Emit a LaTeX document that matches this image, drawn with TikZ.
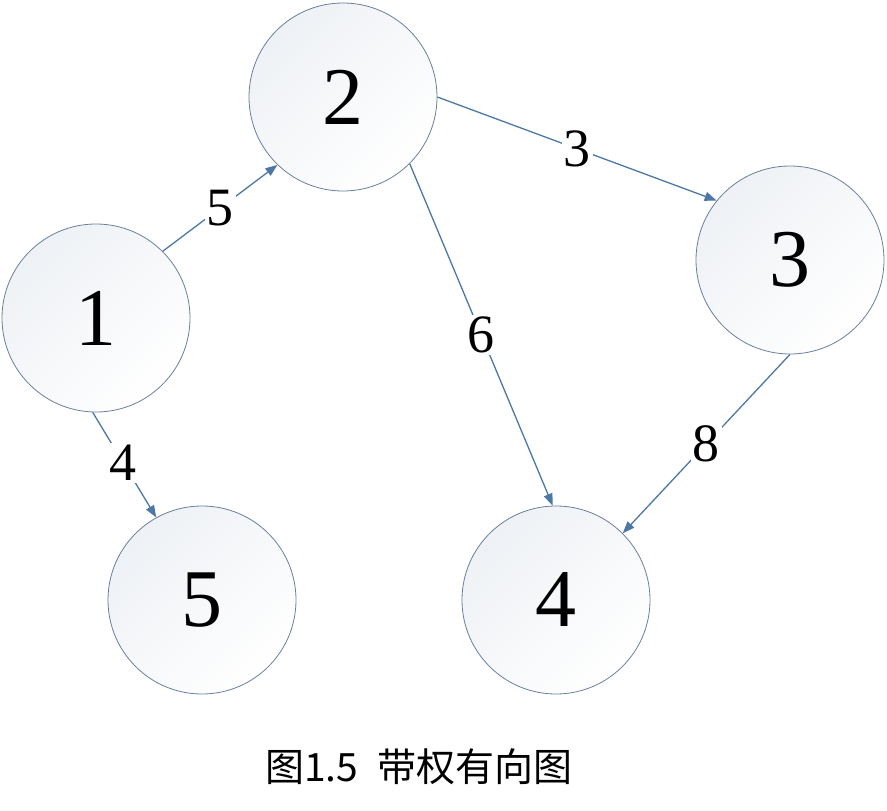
\documentclass[tikz,border=0pt]{standalone}
\usepackage{fontspec}
\setmainfont{Liberation Serif}
\newfontfamily\cjk{Noto Sans CJK SC}
\usepackage{tikz}
\usepackage{xcolor}
\usetikzlibrary{arrows.meta,shapes}
\definecolor{rim}{HTML}{6A7F9C}
\definecolor{shadebg}{HTML}{EEF1F5}
\definecolor{arcblue}{HTML}{4C77A6}
\tikzset{
  vert/.style={circle,draw=rim,line width=0.8pt,minimum size=188pt,
               inner sep=0pt,shading=axis,top color=shadebg,bottom color=white,
               shading angle=45,font=\fontsize{82}{88}\selectfont},
  warc/.style={-{Triangle[length=12pt,width=9pt]},line width=1.3pt,
               draw=arcblue},
  wlabel/.style={fill=white,inner sep=2pt,text=black,
                 font=\fontsize{54}{60}\selectfont}
}

\begin{document}
\begin{tikzpicture}[x=1pt,y=-1pt]
    \path[use as bounding box] (0,0) rectangle (887,811);
    \node[vert] (v1) at (96,318) {1};
    \node[vert] (v2) at (343,97) {2};
    \node[vert] (v3) at (790,260) {3};
    \node[vert] (v4) at (556,600) {4};
    \node[vert] (v5) at (202,600) {5};

    \draw[warc] (v1.45) -- node[wlabel] (w12) {5} (v2.226);
    \draw[warc] (v2.0) -- node[wlabel] (w23) {3} (v3.141);
    \draw[warc] (v2.-45) -- node[wlabel] (w24) {6} (v4.92);
    \draw[warc] (v3.270) -- node[wlabel] (w34) {8} (v4.45);
    \draw[warc] (v1.268) -- node[wlabel,pos=0.48] (w15) {4} (v5.119);

    \node[font=\cjk\fontsize{39}{42}\selectfont] (cap) at (419,767)
      {图1.5\hspace{0.5em}带权有向图};
\end{tikzpicture}
\end{document}
